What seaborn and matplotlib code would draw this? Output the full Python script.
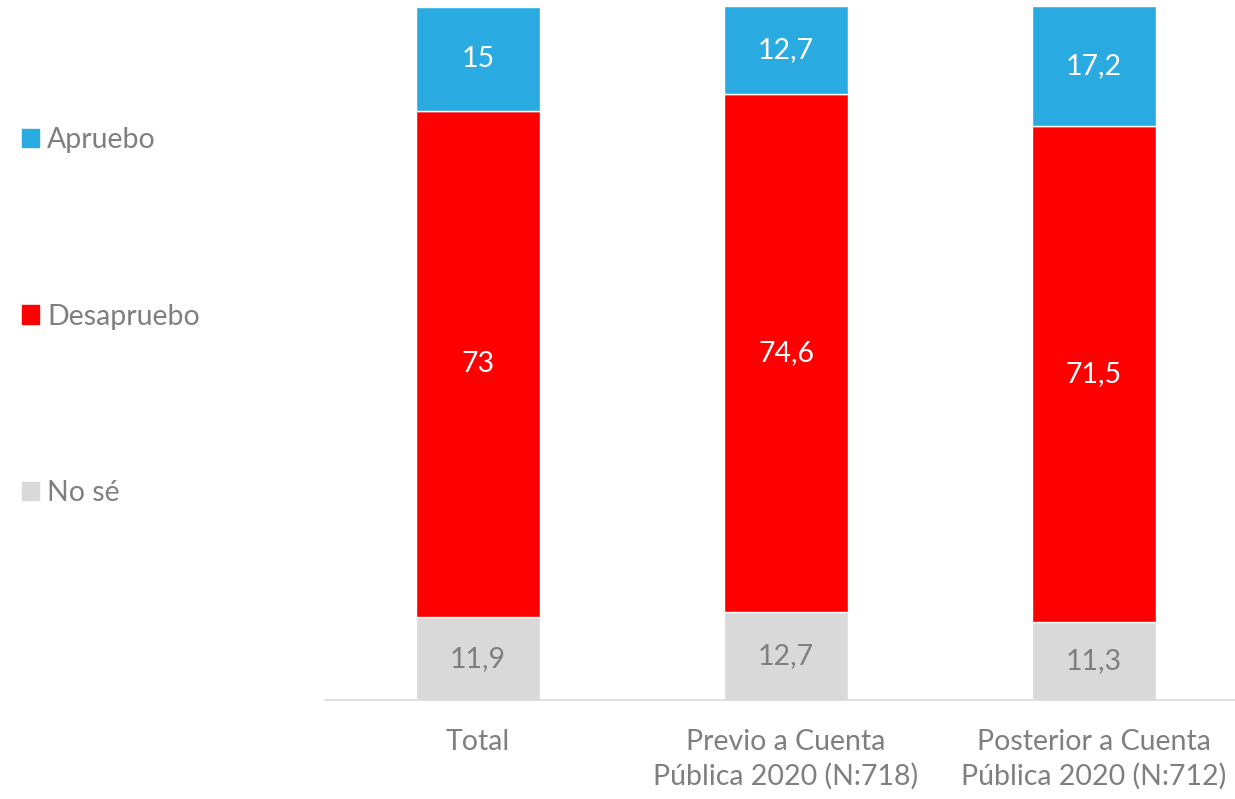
import pandas as pd
import seaborn as sns
import matplotlib.pyplot as plt
from matplotlib.patches import Patch

# categorias y valores (%)
grupos = ["Total", "Previo a Cuenta\nPública 2020 (N:718)", "Posterior a Cuenta\nPública 2020 (N:712)"]
no_se = [11.9, 12.7, 11.3]
desapruebo = [73, 74.6, 71.5]
apruebo = [15, 12.7, 17.2]

colores = {"Apruebo": "#29ABE2", "Desapruebo": "#FF0000", "No sé": "#D9D9D9"}
gris_texto = "#7F7F7F"

sns.set_theme(style="white")
plt.rcParams["font.family"] = ["Lato", "DejaVu Sans"]

df = pd.DataFrame({"grupo": grupos, "No sé": no_se, "Desapruebo": desapruebo, "Apruebo": apruebo})
df["base_des"] = df["No sé"]
df["base_apr"] = df["No sé"] + df["Desapruebo"]

fig = plt.figure(figsize=(12.35, 7.99), dpi=100)
ax = fig.add_axes([325 / 1235, 99 / 799, 910 / 1235, 700 / 799])

sns.barplot(data=df, x="grupo", y="No sé", color=colores["No sé"], width=0.4, ax=ax, saturation=1)
sns.barplot(data=df, x="grupo", y="Desapruebo", bottom=df["base_des"], color=colores["Desapruebo"],
            width=0.4, ax=ax, saturation=1)
sns.barplot(data=df, x="grupo", y="Apruebo", bottom=df["base_apr"], color=colores["Apruebo"],
            width=0.4, ax=ax, saturation=1)

fmt = lambda v: f"{v:g}".replace(".", ",")
txt_colors = [gris_texto, "white", "white"]
for cont, vals, c in zip(ax.containers, [no_se, desapruebo, apruebo], txt_colors):
    ax.bar_label(cont, labels=[fmt(v) for v in vals], label_type="center", color=c, fontsize=20.5)

ax.set_xlim(-0.497, 2.458)
ax.set_ylim(0, 100.9)
ax.set_xlabel("")
ax.set_ylabel("")
ax.set_yticks([])
for s in ["top", "right", "left"]:
    ax.spines[s].set_visible(False)
ax.spines["bottom"].set_color("#D9D9D9")
ax.spines["bottom"].set_linewidth(1.2)
ax.tick_params(axis="x", length=0, labelsize=20.5, labelcolor=gris_texto, pad=21)
for t in ax.get_xticklabels():
    t.set_linespacing(1.37)

handles = [Patch(color=colores[k]) for k in ["Apruebo", "Desapruebo", "No sé"]]
leg = fig.legend(handles, ["Apruebo", "Desapruebo", "No sé"], loc="upper left",
                 bbox_to_anchor=(-4 / 1235, 1 - 101 / 799), frameon=False, fontsize=20.5,
                 labelspacing=5.3, handlelength=0.6, handleheight=0.6, handletextpad=0.3)
for t in leg.get_texts():
    t.set_color(gris_texto)

fig.savefig("out.png", dpi=100)
